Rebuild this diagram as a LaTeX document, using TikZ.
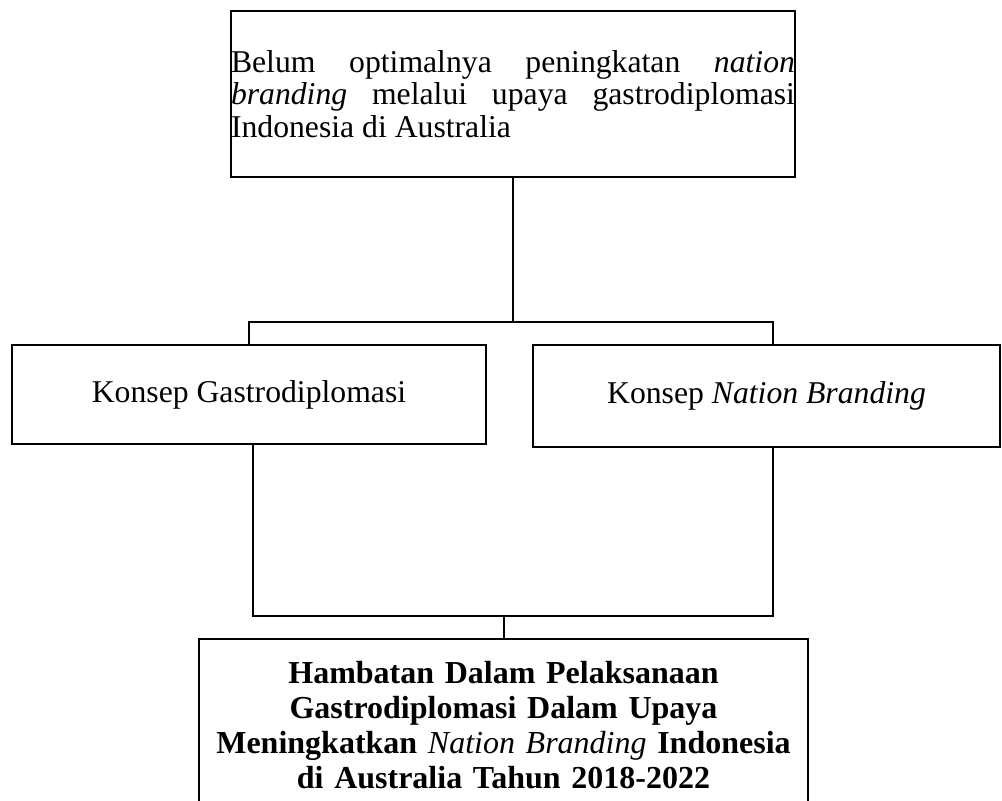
\documentclass[tikz,border=0pt]{standalone}
\usepackage{fontspec}
\setmainfont{Liberation Serif}
\begin{document}
\begin{tikzpicture}[x=1pt,y=-1pt,
  box/.style={draw, line width=2.6pt, inner sep=0pt, outer sep=0pt},
  link/.style={line width=2.4pt, line cap=rect},
  txt/.style={font=\fontsize{31.7}{32.6}\selectfont}]
\useasboundingbox (0,0) rectangle (1002,801);
\clip (0,0) rectangle (1002,801);
\node[box, txt, minimum width=564pt, minimum height=166pt, text width=564pt, align=justify] (top) at (513,94)
  {Belum optimalnya peningkatan \textit{nation}\linebreak \textit{branding} melalui upaya gastrodiplomasi\linebreak Indonesia di Australia};
\node[box, txt, minimum width=474pt, minimum height=99pt] (kg) at (249,394.5) {Konsep Gastrodiplomasi};
\node[box, txt, minimum width=467pt, minimum height=102pt] (knb) at (766.5,396) {Konsep \textit{Nation Branding}};
\node[box, anchor=north, text width=609pt, align=center, inner xsep=0pt, inner ysep=22pt,
  font=\fontsize{32}{35}\selectfont\bfseries] (hb) at (503.5,639)
  {Hambatan Dalam Pelaksanaan\\ Gastrodiplomasi Dalam Upaya\\ Meningkatkan {\mdseries\itshape Nation Branding} Indonesia\\ di Australia Tahun 2018-2022};
\coordinate (j1) at (513,322);
\coordinate (jl) at (249,322);
\coordinate (jr) at (773,322);
\coordinate (bl) at (253,616);
\coordinate (br) at (773,616);
\coordinate (bm) at (504,616);
\draw[link] (top.south) -- (j1);
\draw[link] (jl) -- (jr);
\draw[link] (jl) -- (jl |- kg.north);
\draw[link] (jr) -- (jr |- knb.north);
\draw[link] (bl |- kg.south) -- (bl) -- (br) -- (br |- knb.south);
\draw[link] (bm) -- (bm |- hb.north);
\end{tikzpicture}
\end{document}
